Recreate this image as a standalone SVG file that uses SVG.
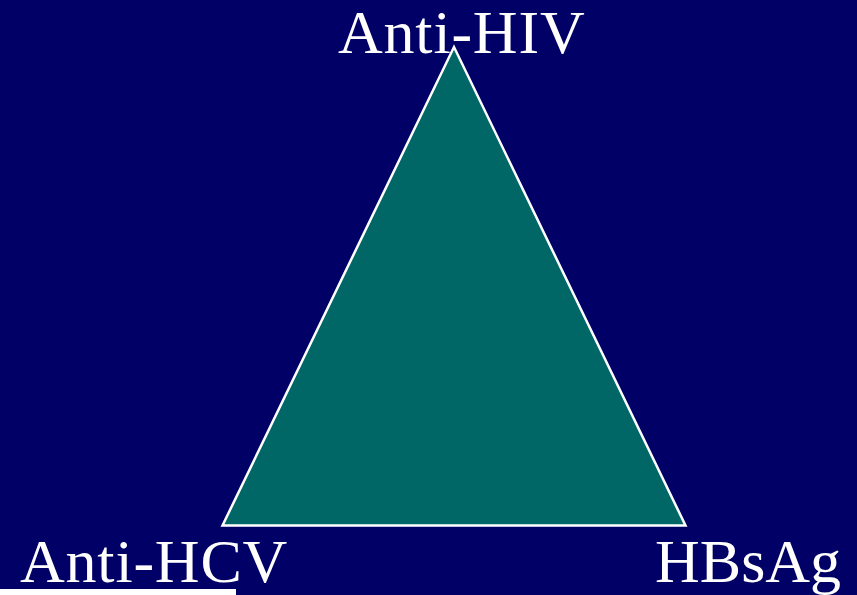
<svg xmlns="http://www.w3.org/2000/svg" width="857" height="595" viewBox="0 0 857 595">
<style>
.lbl{font-family:"Liberation Serif","Times New Roman",serif;font-size:62px;fill:#ffffff}
.wide{letter-spacing:0.8px}
</style>
<rect x="0" y="0" width="857" height="595" fill="#000066"/>
<g id="triangle">
<polygon points="222.5,525.5 454,47 685.5,525.5" fill="#006666" stroke="#ffffff" stroke-width="2.5" stroke-linejoin="miter"/>
</g>
<g id="connectors"></g>
<g id="node-hiv"><text class="lbl wide" x="338" y="53">Anti-HIV</text></g>
<g id="node-hcv"><text class="lbl wide" x="20" y="582">Anti-HCV</text></g>
<g id="node-hbsag"><text class="lbl" x="655" y="582">HBsAg</text></g>
<rect x="0" y="589" width="236" height="6" fill="#ffffff"/>
</svg>
